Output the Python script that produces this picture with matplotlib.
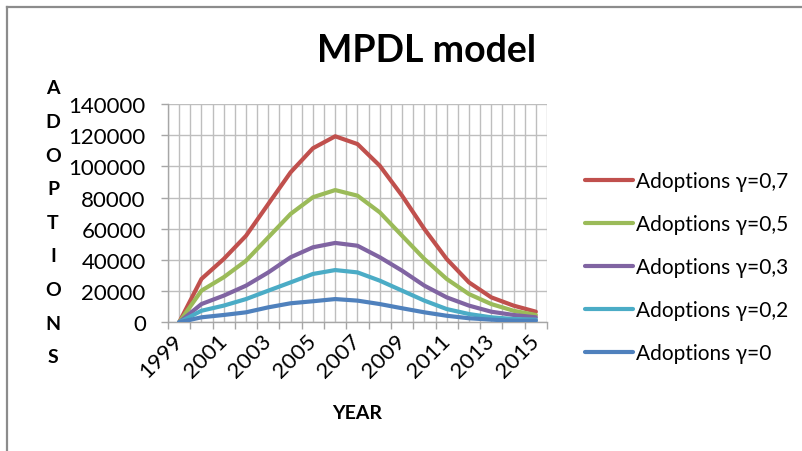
import numpy as np
import matplotlib
matplotlib.use("Agg")
import matplotlib.pyplot as plt
from matplotlib.lines import Line2D

plt.rcParams['font.family'] = ['Lato', 'DejaVu Sans']

years = np.arange(1999, 2016)

adopt_07 = [0, 27800, 40600, 55500, 75900, 96200, 111600, 119300, 114300, 100400,
            81200, 59800, 40600, 25600, 16000, 10700, 6800]
adopt_05 = [0, 20300, 28900, 39500, 54500, 69500, 80200, 84800, 81200, 70500,
            55500, 40600, 27800, 18100, 11700, 7400, 4700]
adopt_03 = [0, 11700, 17100, 23500, 32000, 41700, 48100, 50900, 49100, 41700,
            33100, 23500, 16000, 10700, 6800, 4700, 3200]
adopt_02 = [0, 7400, 10700, 14900, 20300, 25600, 31000, 33500, 32000, 26700,
            20300, 13900, 8500, 5300, 3200, 2100, 1700]
adopt_00 = [0, 3200, 4700, 6400, 9600, 12200, 13500, 14900, 13900, 11700,
            9000, 6400, 4200, 2600, 1700, 1000, 1000]

series_labels = ["Adoptions γ=0,7", "Adoptions γ=0,5", "Adoptions γ=0,3",
                 "Adoptions γ=0,2", "Adoptions γ=0"]
series_colors = ["#C0504D", "#9BBB59", "#8064A2", "#4BACC6", "#4F81BD"]
y_ticks = list(range(0, 140001, 20000))
x_labels = list(range(1999, 2016, 2))

W, H = 803, 452
fig = plt.figure(figsize=(W / 100, H / 100), dpi=100)
fig.patch.set_facecolor("white")

def fx(px):
    return px / W

def fy(py):
    return 1 - py / H

left, right, top, bottom = 168, 547, 105, 323.3
ax = fig.add_axes([fx(left), fy(bottom), fx(right - left), (bottom - top) / H])

grid_c = "#BEBEBE"
for xv in np.arange(years[0] - 0.5, years[-1] + 0.51, 0.5):
    ax.axvline(xv, color=grid_c, lw=1.0, zorder=1)
ax.set_yticks(y_ticks)
ax.yaxis.grid(True, color=grid_c, lw=1.0, zorder=1)
ax.set_axisbelow(True)

for vals, lab, col in zip([adopt_07, adopt_05, adopt_03, adopt_02, adopt_00],
                          series_labels, series_colors):
    ax.plot(years, vals, color=col, lw=3.0, label=lab, zorder=3,
            solid_joinstyle="round", solid_capstyle="round")

ax.set_xlim(years[0] - 0.5, years[-1] + 0.5)
ax.set_ylim(0, 140000)

ax.set_xticks(x_labels)
ax.set_xticklabels([str(v) for v in x_labels], rotation=45, ha="right",
                   va="center", rotation_mode="anchor", fontsize=16)
ax.set_xticks(np.arange(years[0] - 0.5, years[-1] + 0.51, 1.0), minor=True)
ax.tick_params(axis="x", which="major", length=0, pad=11)
ax.tick_params(axis="x", which="minor", length=5, color="#A6A6A6", width=1)
ax.tick_params(axis="y", length=5, color="#A6A6A6", width=1, pad=11,
               labelsize=16)
ax.set_yticklabels([str(v) for v in y_ticks])

for s in ["top", "right"]:
    ax.spines[s].set_visible(False)
for s in ["left", "bottom"]:
    ax.spines[s].set_color("#A6A6A6")
    ax.spines[s].set_linewidth(1.0)

fig.text(fx(426.5), fy(62), "MPDL model", fontsize=27, fontweight="bold",
         ha="center", va="baseline")
fig.text(fx(357), fy(414), "YEAR", fontsize=14, fontweight="bold",
         ha="center", va="center")
for i, ch in enumerate("ADOPTIONS"):
    fig.text(fx(53), fy(89 + i * 33.6), ch, fontsize=14, fontweight="bold",
             ha="center", va="center")

leg = ax.legend(loc="center left", bbox_to_anchor=(fx(585), fy(268)),
                bbox_transform=fig.transFigure, frameon=False, fontsize=15,
                handlelength=2.3, handletextpad=0.15, labelspacing=1.1,
                borderpad=0, borderaxespad=0)

# outer chart border (top and left edges)
fig.add_artist(Line2D([fx(7), 1.0], [fy(8), fy(8)], color="#8C8C8C", lw=1.6))
fig.add_artist(Line2D([fx(7), fx(7)], [fy(8), 0.0], color="#8C8C8C", lw=1.6))

fig.savefig("out.png", dpi=100)
